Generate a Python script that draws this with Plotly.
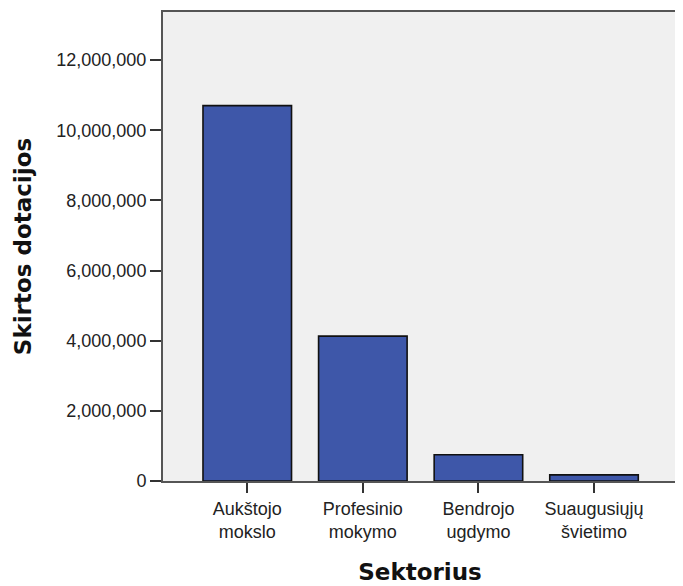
import plotly.graph_objects as go

categories = ["Aukštojo<br>mokslo", "Profesinio<br>mokymo", "Bendrojo<br>ugdymo", "Suaugusiųjų<br>švietimo"]
values = [10700000, 4130000, 750000, 175000]
y_tick_values = [0, 2000000, 4000000, 6000000, 8000000, 10000000, 12000000]
y_tick_labels = ["0", "2,000,000", "4,000,000", "6,000,000", "8,000,000", "10,000,000", "12,000,000"]
x_title = "Sektorius"
y_title = "Skirtos dotacijos"

fig = go.Figure()
fig.add_trace(go.Bar(
    x=list(range(len(categories))),
    y=values,
    width=0.766,
    marker=dict(color="#3e57a9", line=dict(color="#111111", width=1.6)),
    hoverinfo="skip",
))

# page body has an 8px margin, so the figure is sized/offset to land on the reference pixels
fig.update_layout(
    width=675, height=578,
    margin=dict(l=155, r=6, t=2, b=105),
    paper_bgcolor="white",
    plot_bgcolor="#f0f0f0",
    showlegend=False,
    font=dict(family="Liberation Sans, Arial, sans-serif", size=18, color="#222222"),
)
fig.update_xaxes(
    range=[-0.729, 3.718],
    tickmode="array",
    tickvals=list(range(len(categories))),
    ticktext=categories,
    ticks="outside", ticklen=10, tickwidth=2, tickcolor="#333333",
    showline=True, linecolor="#555555", linewidth=2, mirror=True,
    showgrid=False, zeroline=False,
    tickfont=dict(size=18, color="#222222"),
    title=dict(text=x_title, standoff=23,
               font=dict(family="DejaVu Sans, sans-serif", size=23, color="#111111", weight="bold")),
)
fig.update_yaxes(
    range=[0, 13370000],
    tickmode="array",
    tickvals=y_tick_values,
    ticktext=y_tick_labels,
    ticks="outside", ticklen=11, tickwidth=2, tickcolor="#333333",
    showline=True, linecolor="#555555", linewidth=2, mirror=True,
    showgrid=False, zeroline=False,
    tickfont=dict(size=18, color="#222222"),
    title=dict(text=y_title, standoff=18,
               font=dict(family="DejaVu Sans, sans-serif", size=23, color="#111111", weight="bold")),
)

fig.write_html("out.html")
